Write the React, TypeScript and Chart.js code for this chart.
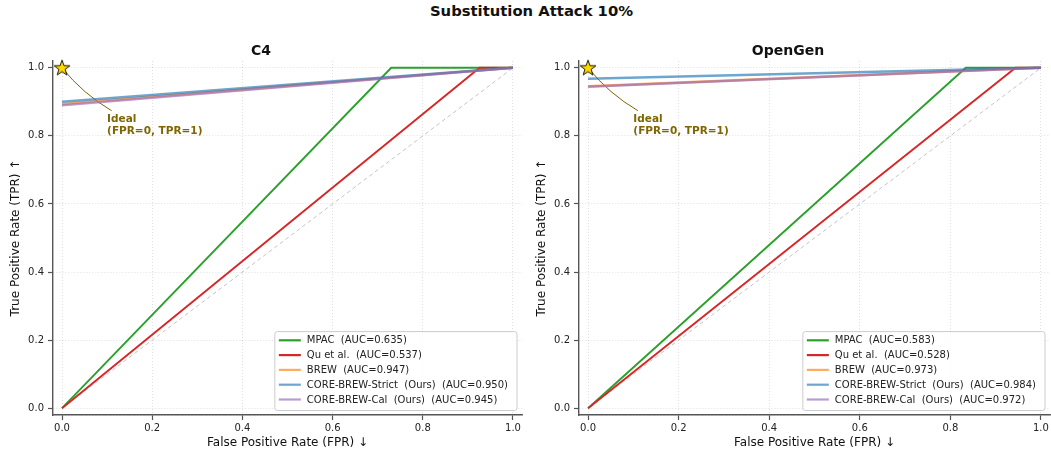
import React, { useEffect, useRef } from 'react';
import { Chart, registerables } from 'chart.js';

Chart.register(...registerables);

// ---------------- data ----------------
const SUPTITLE = 'Substitution Attack 10%';
const panelTitles = ['C4', 'OpenGen'];
const methodNames = ['MPAC', 'Qu et al.', 'BREW', 'CORE-BREW-Strict  (Ours)', 'CORE-BREW-Cal  (Ours)'];
const xAxisTitle = 'False Positive Rate (FPR) ↓';
const yAxisTitle = 'True Positive Rate (TPR) ↑';
const tickValues = [0, 0.2, 0.4, 0.6, 0.8, 1.0];
const idealLabel = ['Ideal', '(FPR=0, TPR=1)'];
const idealFpr = [0];
const idealTpr = [1];
const diagFpr = [0, 1];
const diagTpr = [0, 1];

// C4
const c4Auc = ['0.635', '0.537', '0.947', '0.950', '0.945'];
const c4MpacFpr = [0, 0.73, 1];
const c4MpacTpr = [0, 1, 1];
const c4QuFpr = [0, 0.926, 1];
const c4QuTpr = [0, 1, 1];
const c4BrewFpr = [0, 1];
const c4BrewTpr = [0.894, 1];
const c4StrictFpr = [0, 1];
const c4StrictTpr = [0.9, 1];
const c4CalFpr = [0, 1];
const c4CalTpr = [0.89, 1];

// OpenGen
const ogAuc = ['0.583', '0.528', '0.973', '0.984', '0.972'];
const ogMpacFpr = [0, 0.834, 1];
const ogMpacTpr = [0, 1, 1];
const ogQuFpr = [0, 0.944, 1];
const ogQuTpr = [0, 1, 1];
const ogBrewFpr = [0, 1];
const ogBrewTpr = [0.946, 1];
const ogStrictFpr = [0, 1];
const ogStrictTpr = [0.968, 1];
const ogCalFpr = [0, 1];
const ogCalTpr = [0.944, 1];

// ---------------- styles ----------------
const FONT = '"DejaVu Sans", sans-serif';
const methodColors = [
  '#2ca02c',
  '#d62728',
  'rgba(255,127,14,0.65)',
  'rgba(31,119,180,0.65)',
  'rgba(148,103,189,0.65)',
];
const methodWidths = [1.9, 1.9, 2.5, 2.5, 2.5];
const annotColor = '#806600';

const pts = (xs: number[], ys: number[]) => xs.map((x, i) => ({ x, y: ys[i] }));

function makeStar(): HTMLCanvasElement {
  const c = document.createElement('canvas');
  c.width = 20;
  c.height = 20;
  const g = c.getContext('2d')!;
  const R = 8.2;
  const r = 3.3;
  g.beginPath();
  for (let i = 0; i < 10; i++) {
    const ang = -Math.PI / 2 + (i * Math.PI) / 5;
    const rad = i % 2 === 0 ? R : r;
    const px = 10 + rad * Math.cos(ang);
    const py = 10.5 + rad * Math.sin(ang);
    if (i === 0) g.moveTo(px, py);
    else g.lineTo(px, py);
  }
  g.closePath();
  g.fillStyle = '#FFD700';
  g.fill();
  g.lineWidth = 0.9;
  g.strokeStyle = '#000';
  g.stroke();
  return c;
}

interface PanelProps {
  title: string;
  auc: string[];
  fprs: number[][];
  tprs: number[][];
  padRight: number;
}

function Panel({ title, auc, fprs, tprs, padRight }: PanelProps) {
  const ref = useRef<HTMLCanvasElement | null>(null);

  useEffect(() => {
    if (!ref.current) return;
    const star = makeStar();

    const datasets: any[] = [
      {
        label: 'diag',
        data: pts(diagFpr, diagTpr),
        showLine: true,
        borderColor: '#c4c4c4',
        borderWidth: 1,
        borderDash: [4, 3],
        pointRadius: 0,
        order: 7,
        inLegend: false,
      },
    ];
    methodNames.forEach((name, i) => {
      datasets.push({
        label: `${name}  (AUC=${auc[i]})`,
        data: pts(fprs[i], tprs[i]),
        showLine: true,
        borderColor: methodColors[i],
        backgroundColor: methodColors[i],
        borderWidth: methodWidths[i],
        pointRadius: 0,
        tension: 0,
        order: 6 - i,
        inLegend: true,
      });
    });
    datasets.push({
      label: 'Ideal',
      data: pts(idealFpr, idealTpr),
      showLine: false,
      pointStyle: star,
      pointRadius: 8,
      clip: false,
      order: 0,
      inLegend: false,
    });

    const overlay = {
      id: 'overlay',
      beforeDatasetsDraw(chart: any) {
        const { ctx } = chart;
        const xs = chart.scales.x;
        const ys = chart.scales.y;
        const x0 = xs.getPixelForValue(idealFpr[0]);
        const y0 = ys.getPixelForValue(idealTpr[0]);
        const x2 = xs.getPixelForValue(0.11);
        const y2 = ys.getPixelForValue(0.874);
        const mx = (x0 + x2) / 2;
        const my = (y0 + y2) / 2;
        const dx = x2 - x0;
        const dy = y2 - y0;
        const len = Math.hypot(dx, dy);
        const cx = mx + (-dy / len) * 6;
        const cy = my + (dx / len) * 6;
        ctx.save();
        ctx.strokeStyle = annotColor;
        ctx.lineWidth = 1;
        ctx.beginPath();
        ctx.moveTo(x0, y0);
        ctx.quadraticCurveTo(cx, cy, x2, y2);
        ctx.stroke();
        ctx.restore();
      },
      afterDatasetsDraw(chart: any) {
        const { ctx, chartArea } = chart;
        const xs = chart.scales.x;
        const ys = chart.scales.y;
        // annotation text
        ctx.save();
        ctx.fillStyle = annotColor;
        ctx.font = `bold 10.5px ${FONT}`;
        ctx.textBaseline = 'middle';
        ctx.textAlign = 'left';
        const tx = xs.getPixelForValue(0.1);
        const ty = ys.getPixelForValue(0.85);
        idealLabel.forEach((t, i) => ctx.fillText(t, tx, ty + i * 12.5));
        ctx.restore();

        // legend
        const items = chart.data.datasets.filter((d: any) => d.inLegend);
        ctx.save();
        ctx.font = `10px ${FONT}`;
        const textW = Math.max(...items.map((d: any) => ctx.measureText(d.label).width));
        const rowH = 14.8;
        const boxW = 32 + textW + 9;
        const boxH = 8.7 + (items.length - 1) * rowH + 11;
        const right = chartArea.right - 5;
        const bottom = chartArea.bottom - 4.5;
        const left = right - boxW;
        const top = bottom - boxH;
        ctx.beginPath();
        ctx.roundRect(left, top, boxW, boxH, 2.5);
        ctx.fillStyle = 'rgba(255,255,255,0.85)';
        ctx.fill();
        ctx.strokeStyle = '#cccccc';
        ctx.lineWidth = 1;
        ctx.stroke();
        items.forEach((d: any, i: number) => {
          const yy = top + 8.7 + i * rowH;
          ctx.beginPath();
          ctx.strokeStyle = d.borderColor;
          ctx.lineWidth = 2.2;
          ctx.moveTo(left + 4, yy);
          ctx.lineTo(left + 26, yy);
          ctx.stroke();
          ctx.fillStyle = '#222';
          ctx.textBaseline = 'middle';
          ctx.textAlign = 'left';
          ctx.fillText(d.label, left + 32, yy + 0.5);
        });
        ctx.restore();
      },
    };

    const axisCommon = (titleText: string, isX: boolean) => ({
      type: 'linear' as const,
      min: -0.02,
      max: 1.02,
      position: isX ? 'bottom' : 'left',
      afterBuildTicks: (scale: any) => {
        scale.ticks = tickValues.map((v) => ({ value: v }));
      },
      afterFit: (scale: any) => {
        if (isX) scale.height = 39;
        else scale.width = 53;
        scale.paddingLeft = 0;
        scale.paddingRight = 0;
        scale.paddingTop = 0;
        scale.paddingBottom = 0;
      },
      ticks: {
        autoSkip: false,
        maxRotation: 0,
        padding: isX ? 2 : 4,
        color: '#222',
        font: { family: FONT, size: 10 },
        callback: (v: any) => Number(v).toFixed(1),
      },
      grid: {
        color: 'rgba(0,0,0,0.16)',
        lineWidth: 0.8,
        drawTicks: true,
        tickLength: 5,
        tickColor: '#555',
        tickWidth: 1.2,
      },
      border: {
        display: true,
        color: '#555',
        width: 1.4,
        dash: [1, 2],
      },
      title: {
        display: true,
        text: titleText,
        color: '#111',
        font: { family: FONT, size: 12 },
        padding: isX ? { top: 0, bottom: 3.8 } : { top: 8.8, bottom: 0 },
      },
    });

    const chart = new Chart(ref.current, {
      type: 'scatter',
      data: { datasets },
      options: {
        animation: false,
        responsive: false,
        maintainAspectRatio: false,
        layout: { autoPadding: false, padding: { top: 0, right: padRight, bottom: 0, left: 0 } },
        plugins: {
          legend: { display: false },
          tooltip: { enabled: false },
          title: {
            display: true,
            text: title,
            color: '#111',
            font: { family: FONT, size: 14, weight: 'bold' },
            padding: { top: 42.6, bottom: 1.6 },
          },
        },
        scales: {
          x: axisCommon(xAxisTitle, true) as any,
          y: axisCommon(yAxisTitle, false) as any,
        },
      },
      plugins: [overlay],
    });
    return () => chart.destroy();
  }, [title, auc, fprs, tprs, padRight]);

  return <canvas ref={ref} width={526} height={454} style={{ width: 526, height: 454, display: 'block' }} />;
}

const c4Fprs = [c4MpacFpr, c4QuFpr, c4BrewFpr, c4StrictFpr, c4CalFpr];
const c4Tprs = [c4MpacTpr, c4QuTpr, c4BrewTpr, c4StrictTpr, c4CalTpr];
const ogFprs = [ogMpacFpr, ogQuFpr, ogBrewFpr, ogStrictFpr, ogCalFpr];
const ogTprs = [ogMpacTpr, ogQuTpr, ogBrewTpr, ogStrictTpr, ogCalTpr];

export default function App() {
  return (
    <div
      style={{
        position: 'absolute',
        left: 0,
        top: 0,
        width: 1051,
        height: 454,
        background: '#fff',
        overflow: 'hidden',
      }}
    >
      <div
        style={{
          position: 'absolute',
          left: 6,
          top: 0,
          width: 1051,
          textAlign: 'center',
          fontFamily: FONT,
          fontWeight: 'bold',
          fontSize: 14.8,
          lineHeight: '21px',
          color: '#111',
        }}
      >
        {SUPTITLE}
      </div>
      <div style={{ position: 'absolute', left: 0, top: 0 }}>
        <Panel title={panelTitles[0]} auc={c4Auc} fprs={c4Fprs} tprs={c4Tprs} padRight={4} />
      </div>
      <div style={{ position: 'absolute', left: 526, top: 0 }}>
        <Panel title={panelTitles[1]} auc={ogAuc} fprs={ogFprs} tprs={ogTprs} padRight={2} />
      </div>
    </div>
  );
}
